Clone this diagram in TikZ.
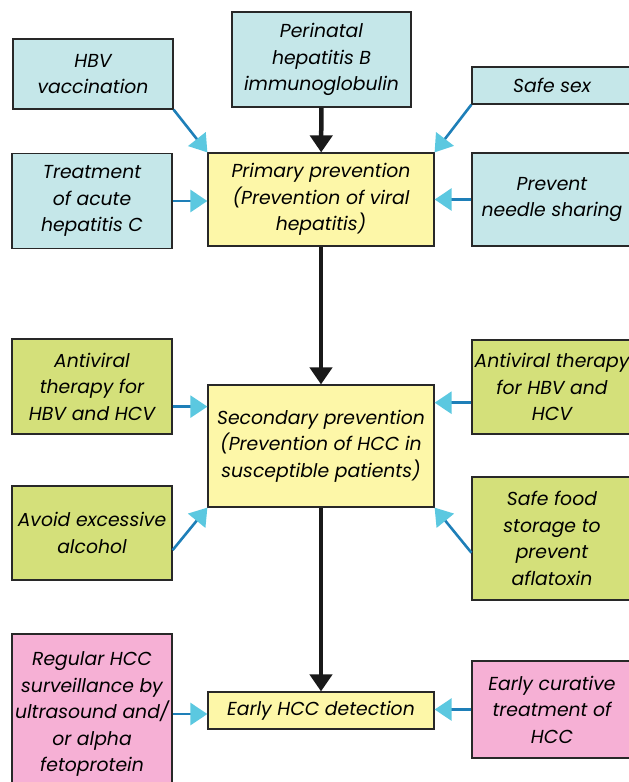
\documentclass[tikz,border=0pt]{standalone}
\usepackage{fontspec}
\setmainfont{Poppins}
\usetikzlibrary{calc,positioning,arrows.meta}
\definecolor{boxblue}{RGB}{197,231,233}
\definecolor{boxyellow}{RGB}{253,247,168}
\definecolor{boxgreen}{RGB}{212,224,122}
\definecolor{boxpink}{RGB}{246,176,213}
\definecolor{linkblue}{RGB}{30,127,184}
\definecolor{tipcyan}{RGB}{91,200,224}
\definecolor{edgegray}{RGB}{40,40,40}
\tikzset{
  kotak/.style={draw=edgegray, line width=1.2pt, rectangle, align=center, inner sep=0pt,
    font=\fontsize{18.8}{26.5}\selectfont\itshape},
  panah/.style={draw=linkblue, line width=2.6pt,
    -{Triangle[length=17pt,width=22pt,color=tipcyan]}},
  utama/.style={draw=black!90, line width=4.5pt,
    -{Triangle[length=17pt,width=22pt]}}
}

\begin{document}
\begin{tikzpicture}[x=1pt,y=-1pt]
\useasboundingbox (0,0) rectangle (629,782);

% kotak-kotak tengah
\node[kotak, fill=boxyellow, minimum width=226pt, minimum height=93pt] (primary) at (321,199.5)
  {Primary prevention\\(Prevention of viral\\hepatitis)};
\node[kotak, fill=boxyellow, minimum width=226pt, minimum height=122pt] (secondary) at (321,446)
  {Secondary prevention\\(Prevention of HCC in\\susceptible patients)};
\node[kotak, fill=boxyellow, minimum width=226pt, minimum height=37pt] (early) at (321,710.5)
  {Early HCC detection};

% pencegahan primer
\node[kotak, fill=boxblue, minimum width=179pt, minimum height=95pt] (perinatal) at (321.5,59.5)
  {Perinatal\\hepatitis B\\immunoglobulin};
\node[kotak, fill=boxblue, minimum width=160pt, minimum height=70pt] (vacc) at (93,74)
  {HBV\\vaccination};
\node[kotak, fill=boxblue, minimum width=160pt, minimum height=95pt] (treat) at (92,201)
  {Treatment\\of acute\\hepatitis C};
\node[kotak, fill=boxblue, minimum width=160pt, minimum height=37pt] (safesex) at (552,85.5)
  {Safe sex};
\node[kotak, fill=boxblue, minimum width=160pt, minimum height=93pt] (needle) at (552,199.5)
  {Prevent\\needle sharing};

% pencegahan sekunder
\node[kotak, fill=boxgreen, minimum width=160pt, minimum height=95pt] (avleft) at (92,386.5)
  {Antiviral\\therapy for\\HBV and HCV};
\node[kotak, fill=boxgreen, minimum width=160pt, minimum height=94pt] (alcohol) at (92,533)
  {Avoid excessive\\alcohol};
\node[kotak, fill=boxgreen, minimum width=160pt, minimum height=94pt] (avright) at (552,387)
  {Antiviral therapy\\for HBV and\\HCV};
\node[kotak, fill=boxgreen, minimum width=160pt, minimum height=123pt] (food) at (552,538.5)
  {Safe food\\storage to\\prevent\\aflatoxin};

% deteksi dini
\node[kotak, fill=boxpink, minimum width=160pt, minimum height=160pt] (regular) at (92,714)
  {Regular HCC\\surveillance by\\ultrasound and/\\or alpha\\fetoprotein};
\node[kotak, fill=boxpink, minimum width=160pt, minimum height=97pt] (curative) at (552,709.5)
  {Early curative\\treatment of\\HCC};

% panah utama
\draw[utama] (perinatal) -- (primary);
\draw[utama] (primary) -- (secondary);
\draw[utama] (secondary) -- (early);

% panah samping
\draw[panah] (vacc.south east) -- (primary.north west);
\draw[panah] (treat.east) -- (treat.east -| primary.west);
\draw[panah] (safesex.south west) -- (primary.north east);
\draw[panah] (needle.west) -- (needle.west -| primary.east);
\draw[panah] (avleft.-14) -- (avleft.-14 -| secondary.west);
\draw[panah] (alcohol.-12) -- (secondary.south west);
\draw[panah] (avright.191) -- (avright.191 -| secondary.east);
\draw[panah] (food.190) -- (secondary.south east);
\draw[panah] (regular.east) -- (regular.east -| early.west);
\draw[panah] (curative.west) -- (curative.west -| early.east);

\end{tikzpicture}
\end{document}
